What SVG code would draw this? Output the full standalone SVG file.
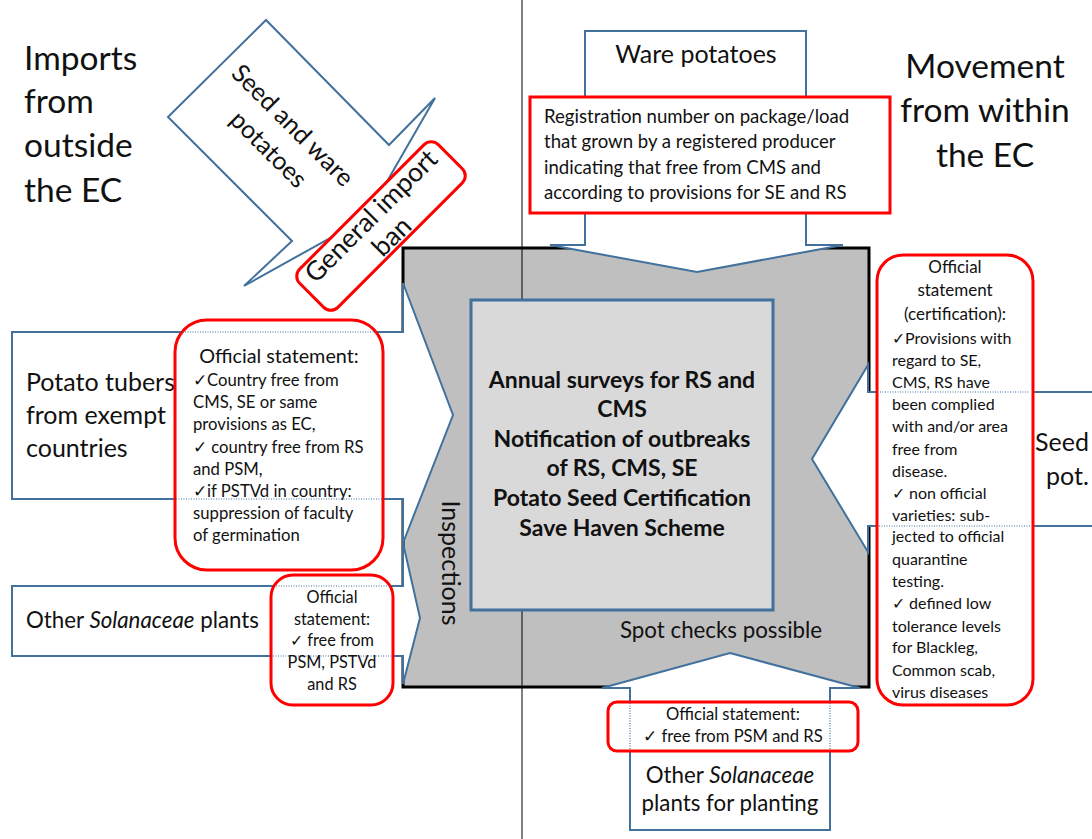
<svg xmlns="http://www.w3.org/2000/svg" width="1092" height="839" viewBox="0 0 1092 839">
<style>
.arrow{fill:#ffffff;stroke:#41719c;stroke-width:2;stroke-linejoin:miter}
.note{fill:#ffffff;stroke:#ff0000;stroke-width:3}
.dot{stroke:#41719c;stroke-width:1.2;stroke-dasharray:1 1.5;fill:none}
.t{font-family:Lato,"Liberation Sans",sans-serif;fill:#111111}
.big{font-size:33.5px}
.l25{font-size:25px}
.l22{font-size:22.3px}
.c{text-anchor:middle}
.b{font-weight:bold}
.s17{font-size:16.7px}
.s15{font-size:16px}
.s16{font-size:16.3px}
</style>
<rect width="1092" height="839" fill="#ffffff"/>

<g id="headings">
<text class="t big" x="24"><tspan x="24" y="70">Imports</tspan><tspan x="24" y="113">from</tspan><tspan x="24" y="157">outside</tspan><tspan x="24" y="202">the EC</tspan></text>
<text class="t big c"><tspan x="985" y="78">Movement</tspan><tspan x="985" y="122">from within</tspan><tspan x="985" y="167">the EC</tspan></text>
</g>

<g id="core">
<rect x="403" y="248" width="466" height="439" fill="#bfbfbf" stroke="#000000" stroke-width="3"/>
<line x1="522" y1="0" x2="522" y2="839" stroke="#000000" stroke-width="1"/>
<text class="t l22" x="620" y="638" fill="#262626">Spot checks possible</text>
</g>

<g id="center-box">
<rect x="471" y="300" width="302" height="310" fill="#d9d9d9" stroke="#41719c" stroke-width="3"/>
<text class="t b c" font-size="23px"><tspan x="622" y="388">Annual surveys for RS and</tspan><tspan x="622" y="417">CMS</tspan><tspan x="622" y="447">Notification of outbreaks</tspan><tspan x="622" y="476">of RS, CMS, SE</tspan><tspan x="622" y="506">Potato Seed Certification</tspan><tspan x="622" y="536">Save Haven Scheme</tspan></text>
</g>

<g id="connectors">
<g id="arrow-seed-ware">
<polygon class="arrow" points="266,20 389,145 435,98 366,218 244,286 292,241 168,117"/>
<g transform="translate(281,137) rotate(45)"><text class="t l25 c"><tspan x="0" y="-8">Seed and ware</tspan><tspan x="0" y="26">potatoes</tspan></text></g>
</g>
<g id="arrow-potato-tubers">
<polygon class="arrow" points="12,332 403,332 403,283 453,415 403,543 403,499 12,499"/>
<text class="t l25"><tspan x="26" y="391">Potato tubers</tspan><tspan x="26" y="424">from exempt</tspan><tspan x="26" y="457">countries</tspan></text>
</g>
<g id="arrow-other-solanaceae">
<polygon class="arrow" points="12,586 403,586 403,543 420,618 403,684 403,656 12,656"/>
<text class="t l22" x="26" y="628">Other <tspan font-style="italic">Solanaceae</tspan> plants</text>
</g>
<g id="arrow-ware">
<polygon class="arrow" points="585,31 806,31 806,245 843,245 697,272 550,245 585,245"/>
<text class="t l25 c" x="696" y="63">Ware potatoes</text>
</g>
<g id="arrow-planting">
<polygon class="arrow" points="630,830 830,830 830,688 860,688 730,653 602,688 630,688"/>
<text class="t c" font-size="22.3px"><tspan x="730" y="783">Other <tspan font-style="italic">Solanaceae</tspan></tspan><tspan x="730" y="811">plants for planting</tspan></text>
</g>
<g id="arrow-seed-pot">
<polygon class="arrow" points="1100,392 868,392 868,365 812,459 868,552 868,526 1100,526"/>
<text class="t l25"><tspan x="1035" y="451">Seed</tspan><tspan x="1046" y="485">pot.</tspan></text>
</g>
</g>

<g id="inspections">
<g transform="translate(442,563) rotate(90)"><text class="t l25 c" x="0" y="0">Inspections</text></g>
</g>

<g id="import-ban">
<g transform="translate(381,226) rotate(-45)">
<rect class="note" x="-98" y="-27" width="196" height="54" rx="10"/>
<text class="t c" font-size="26.5px"><tspan x="0" y="-5">General  import</tspan><tspan x="0" y="24">ban</tspan></text>
</g>
</g>

<g id="registration">
<rect class="note" x="530" y="97" width="360" height="116"/>
<text class="t" font-size="18.6px"><tspan x="544" y="123">Registration number on package/load</tspan><tspan x="544" y="148">that grown by a registered producer</tspan><tspan x="544" y="174">indicating that free from CMS and</tspan><tspan x="544" y="199">according to provisions for SE and RS</tspan></text>
</g>

<g id="statement-exempt">
<rect class="note" x="175" y="320" width="208" height="250" rx="32"/>
<line class="dot" x1="180" y1="332" x2="380" y2="332"/>
<line class="dot" x1="176" y1="499" x2="382" y2="499"/>
<text class="t c" font-size="19.8px" x="279" y="363">Official statement:</text>
<text class="t s17"><tspan x="193" y="386">✓Country free from</tspan><tspan x="193" y="408">CMS, SE or same</tspan><tspan x="193" y="430">provisions  as EC,</tspan><tspan x="193" y="453">✓ country free from RS</tspan><tspan x="193" y="475">and PSM,</tspan><tspan x="193" y="497">✓if PSTVd in country:</tspan><tspan x="193" y="519">suppression of faculty</tspan><tspan x="193" y="541">of germination</tspan></text>
</g>

<g id="statement-solanaceae">
<rect class="note" x="271" y="575" width="122" height="130" rx="22"/>
<line class="dot" x1="276" y1="586" x2="390" y2="586"/>
<line class="dot" x1="273" y1="656" x2="392" y2="656"/>
<text class="t s16 c"><tspan x="332" y="603">Official</tspan><tspan x="332" y="625">statement:</tspan><tspan x="332" y="646">✓ free from</tspan><tspan x="332" y="668">PSM, PSTVd</tspan><tspan x="332" y="690">and RS</tspan></text>
</g>

<g id="statement-certification">
<rect class="note" x="877" y="255" width="156" height="450" rx="26"/>
<line class="dot" x1="880" y1="392" x2="1030" y2="392"/>
<line class="dot" x1="879" y1="526" x2="1031" y2="526"/>
<text class="t c" font-size="17px"><tspan x="955" y="273">Official</tspan><tspan x="955" y="296">statement</tspan><tspan x="955" y="320">(certification):</tspan></text>
<text class="t s15"><tspan x="892" y="344">✓Provisions with</tspan><tspan x="892" y="366">regard to SE,</tspan><tspan x="892" y="388">CMS, RS have</tspan><tspan x="892" y="410">been complied</tspan><tspan x="892" y="432">with and/or area</tspan><tspan x="892" y="455">free from</tspan><tspan x="892" y="477">disease.</tspan><tspan x="892" y="499">✓ non official</tspan><tspan x="892" y="521">varieties: sub-</tspan><tspan x="892" y="542">jected to official</tspan><tspan x="892" y="565">quarantine</tspan><tspan x="892" y="587">testing.</tspan><tspan x="892" y="609">✓ defined low</tspan><tspan x="892" y="632">tolerance levels</tspan><tspan x="892" y="653">for Blackleg,</tspan><tspan x="892" y="676">Common scab,</tspan><tspan x="892" y="698">virus diseases</tspan></text>
</g>

<g id="statement-planting">
<rect class="note" x="608" y="702" width="250" height="49" rx="9"/>
<line class="dot" x1="630" y1="703" x2="630" y2="750"/>
<line class="dot" x1="830" y1="703" x2="830" y2="750"/>
<text class="t c" font-size="16.6px"><tspan x="733" y="720">Official statement:</tspan><tspan x="733" y="742">✓ free from PSM and RS</tspan></text>
</g>
</svg>
